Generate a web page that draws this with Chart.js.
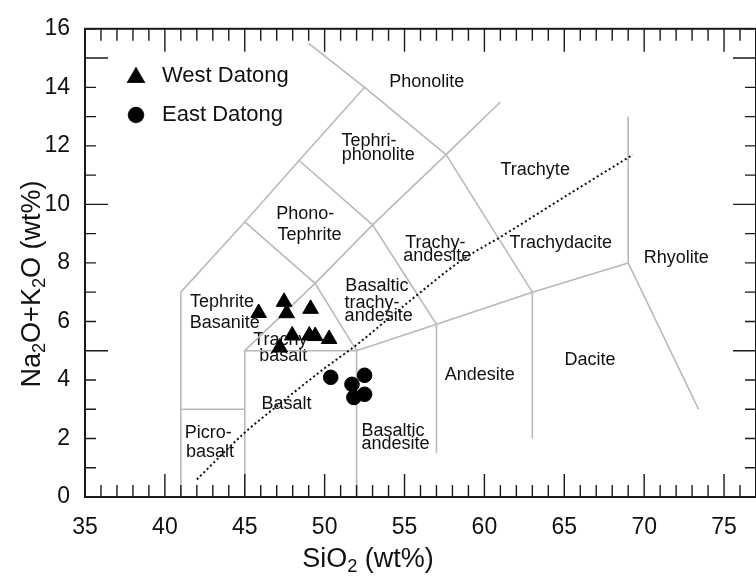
<!DOCTYPE html>
<html>
<head>
<meta charset="utf-8">
<script src="https://cdn.jsdelivr.net/npm/chart.js@4.4.0/dist/chart.umd.min.js"></script>
<style>
  html, body { margin: 0; padding: 0; background: #fff; overflow: hidden; }
  #wrap { width: 766px; height: 588px; }
</style>
</head>
<body>
<div id="wrap"><canvas id="tas" width="766" height="588"></canvas></div>
<script>
// Total alkali vs. silica (TAS) classification diagram

// axis tick labels
const xTickValues = [35, 40, 45, 50, 55, 60, 65, 70, 75];
const yTickValues = [0, 2, 4, 6, 8, 10, 12, 14, 16];

// samples: SiO2 (wt%) and Na2O+K2O (wt%)
const westSiO2 = [45.87, 47.46, 47.62, 49.12, 47.97, 49.04, 49.41, 50.28, 47.19];
const westAlk  = [6.29, 6.67, 6.28, 6.43, 5.52, 5.52, 5.50, 5.40, 5.11];
const eastSiO2 = [50.38, 51.71, 52.50, 51.83, 52.50];
const eastAlk  = [4.09, 3.85, 4.16, 3.40, 3.51];

// field boundaries as polylines of [SiO2, Na2O+K2O]
const boundaries = [
  [[41, 0], [41, 7], [45, 9.4], [48.4, 11.5], [52.5, 14], [57.6, 11.7], [61, 13.5]],
  [[49, 15.5], [52.5, 14]],
  [[41, 3], [45, 3]],
  [[45, 0], [45, 5], [52, 5], [57, 5.9], [63, 7], [69, 8], [73.4, 3]],
  [[45, 5], [49.4, 7.3], [53, 9.3], [57.6, 11.7]],
  [[45, 9.4], [49.4, 7.3], [52, 5], [52, 0]],
  [[48.4, 11.5], [53, 9.3], [57, 5.9], [57, 1.5]],
  [[57.6, 11.7], [63, 7], [63, 2]],
  [[69, 8], [69, 13]]
];

// alkaline / subalkaline divide
const divideSiO2 = [42, 45, 47, 50, 52, 55, 58.6, 61.2, 65, 69.3];
const divideAlk  = [0.6, 2.2, 3.1, 4.4, 5.2, 6.55, 8.1, 8.95, 10.25, 11.7];

// field names, one entry per text line: [text, SiO2, Na2O+K2O]
const fieldLabels = [
  ['Phonolite', 56.39, 14.17],
  ['Tephri-', 52.78, 12.17],
  ['phonolite', 53.36, 11.70],
  ['Phono-', 48.79, 9.68],
  ['Tephrite', 49.05, 8.95],
  ['Trachy-', 56.93, 8.69],
  ['andesite', 57.05, 8.22],
  ['Trachyte', 63.18, 11.19],
  ['Trachydacite', 64.78, 8.69],
  ['Rhyolite', 72.01, 8.16],
  ['Tephrite', 43.57, 6.67],
  ['Basanite', 43.75, 5.94],
  ['Trachy-', 47.42, 5.35],
  ['basalt', 47.41, 4.82],
  ['Basaltic', 53.27, 7.20],
  ['trachy-', 52.96, 6.64],
  ['andesite', 53.38, 6.19],
  ['Basalt', 47.61, 3.18],
  ['Picro-', 42.72, 2.17],
  ['basalt', 42.83, 1.53],
  ['Basaltic', 54.28, 2.26],
  ['andesite', 54.44, 1.81],
  ['Andesite', 59.71, 4.17],
  ['Dacite', 66.61, 4.68]
];

const FONT = '"Liberation Sans", Arial, Helvetica, sans-serif';
const zip = (xs, ys) => xs.map((v, i) => ({ x: v, y: ys[i] }));

const datasets = [
  {
    label: 'West Datong', type: 'scatter', data: zip(westSiO2, westAlk),
    pointStyle: 'triangle', pointRadius: 9, pointHoverRadius: 9,
    backgroundColor: '#000', borderColor: '#000', borderWidth: 1, order: 0
  },
  {
    label: 'East Datong', type: 'scatter', data: zip(eastSiO2, eastAlk),
    pointStyle: 'circle', pointRadius: 7.3, pointHoverRadius: 7.3,
    backgroundColor: '#000', borderColor: '#000', borderWidth: 1, order: 0
  },
  {
    label: 'divide', type: 'line', data: zip(divideSiO2, divideAlk),
    borderColor: '#111', borderWidth: 2, borderDash: [2, 2.7], pointRadius: 0,
    fill: false, cubicInterpolationMode: 'monotone', order: 1
  }
];
boundaries.forEach((line, i) => {
  datasets.push({
    label: 'boundary' + i, type: 'line',
    data: line.map(p => ({ x: p[0], y: p[1] })),
    borderColor: '#b9b9b9', borderWidth: 1.6, pointRadius: 0,
    fill: false, tension: 0, order: 2
  });
});

// text with subscript runs, e.g. SiO2
function richText(ctx, parts, size) {
  const pieces = parts.map(p => {
    const s = p.sub ? size * 0.68 : size;
    ctx.font = s + 'px ' + FONT;
    return { t: p.t, s, sub: !!p.sub, w: ctx.measureText(p.t).width };
  });
  return { pieces, width: pieces.reduce((a, b) => a + b.w, 0) };
}
function drawRich(ctx, parts, size, cx, cy) {
  const r = richText(ctx, parts, size);
  let x = cx - r.width / 2;
  ctx.textAlign = 'left';
  ctx.textBaseline = 'alphabetic';
  const base = cy + size * 0.36;
  r.pieces.forEach(p => {
    ctx.font = p.s + 'px ' + FONT;
    ctx.fillText(p.t, x, p.sub ? base + size * 0.2 : base);
    x += p.w;
  });
}

const fieldText = {
  id: 'fieldText',
  beforeDatasetsDraw(chart) {
    const { ctx, scales: { x, y } } = chart;
    ctx.save();
    ctx.fillStyle = '#111';
    ctx.font = '18px ' + FONT;
    ctx.textAlign = 'center';
    ctx.textBaseline = 'middle';
    fieldLabels.forEach(([t, sx, sy]) => {
      ctx.fillText(t, x.getPixelForValue(sx), y.getPixelForValue(sy));
    });
    ctx.restore();
  }
};

const frame = {
  id: 'frame',
  afterDraw(chart) {
    const { ctx, chartArea: a, scales: { x, y } } = chart;
    ctx.save();
    ctx.strokeStyle = '#1a1a1a';
    ctx.lineWidth = 1.4;
    ctx.beginPath();
    for (let v = Math.ceil(x.min); v <= x.max; v++) {
      const px = x.getPixelForValue(v);
      const L = v % 5 === 0 ? 23 : 12;
      ctx.moveTo(px, a.bottom); ctx.lineTo(px, a.bottom - L);
      ctx.moveTo(px, a.top); ctx.lineTo(px, a.top + L);
    }
    for (let v = Math.ceil(y.min); v <= y.max; v++) {
      const py = y.getPixelForValue(v);
      const L = v % 5 === 0 ? 23 : 11;
      ctx.moveTo(a.left, py); ctx.lineTo(a.left + L, py);
      ctx.moveTo(a.right, py); ctx.lineTo(a.right - L, py);
    }
    ctx.stroke();
    ctx.lineWidth = 2;
    ctx.strokeRect(a.left, a.top, a.right - a.left, a.bottom - a.top);

    // legend
    ctx.font = '22px ' + FONT;
    ctx.textAlign = 'left';
    ctx.textBaseline = 'middle';
    const rows = [[chart.data.datasets[0], 77.5, 76], [chart.data.datasets[1], 115, 115]];
    rows.forEach(([ds, my, ty]) => {
      ctx.fillStyle = '#000';
      Chart.helpers.drawPoint(ctx, {
        pointStyle: ds.pointStyle, radius: ds.pointRadius, rotation: 0, borderWidth: 1
      }, 136, my);
      ctx.fill();
      ctx.fillStyle = '#111';
      ctx.fillText(ds.label, 162, ty);
    });

    // axis titles
    ctx.fillStyle = '#111';
    drawRich(ctx, [{ t: 'SiO' }, { t: '2', sub: true }, { t: ' (wt%)' }], 27, 368, 557);
    ctx.translate(30, 284);
    ctx.rotate(-Math.PI / 2);
    drawRich(ctx, [{ t: 'Na' }, { t: '2', sub: true }, { t: 'O+K' }, { t: '2', sub: true }, { t: 'O (wt%)' }], 27, 0, 0);
    ctx.restore();
  }
};

new Chart(document.getElementById('tas'), {
  type: 'scatter',
  data: { datasets },
  plugins: [fieldText, frame],
  options: {
    responsive: false,
    animation: false,
    devicePixelRatio: 1,
    layout: { padding: { top: 22, right: 1, left: 0, bottom: 0 } },
    plugins: { legend: { display: false }, tooltip: { enabled: false } },
    scales: {
      x: {
        type: 'linear', min: 35, max: 77,
        grid: { display: false, drawTicks: false },
        border: { display: false },
        afterBuildTicks: s => { s.ticks = xTickValues.map(v => ({ value: v })); },
        afterFit: s => { s.height = 91; },
        ticks: { padding: 17, color: '#111', font: { family: FONT, size: 23 } }
      },
      y: {
        type: 'linear', min: 0, max: 16,
        grid: { display: false, drawTicks: false },
        border: { display: false },
        afterBuildTicks: s => { s.ticks = yTickValues.map(v => ({ value: v })); },
        afterFit: s => { s.width = 85; },
        ticks: { padding: 15, color: '#111', font: { family: FONT, size: 23 } }
      }
    }
  }
});
</script>
</body>
</html>
